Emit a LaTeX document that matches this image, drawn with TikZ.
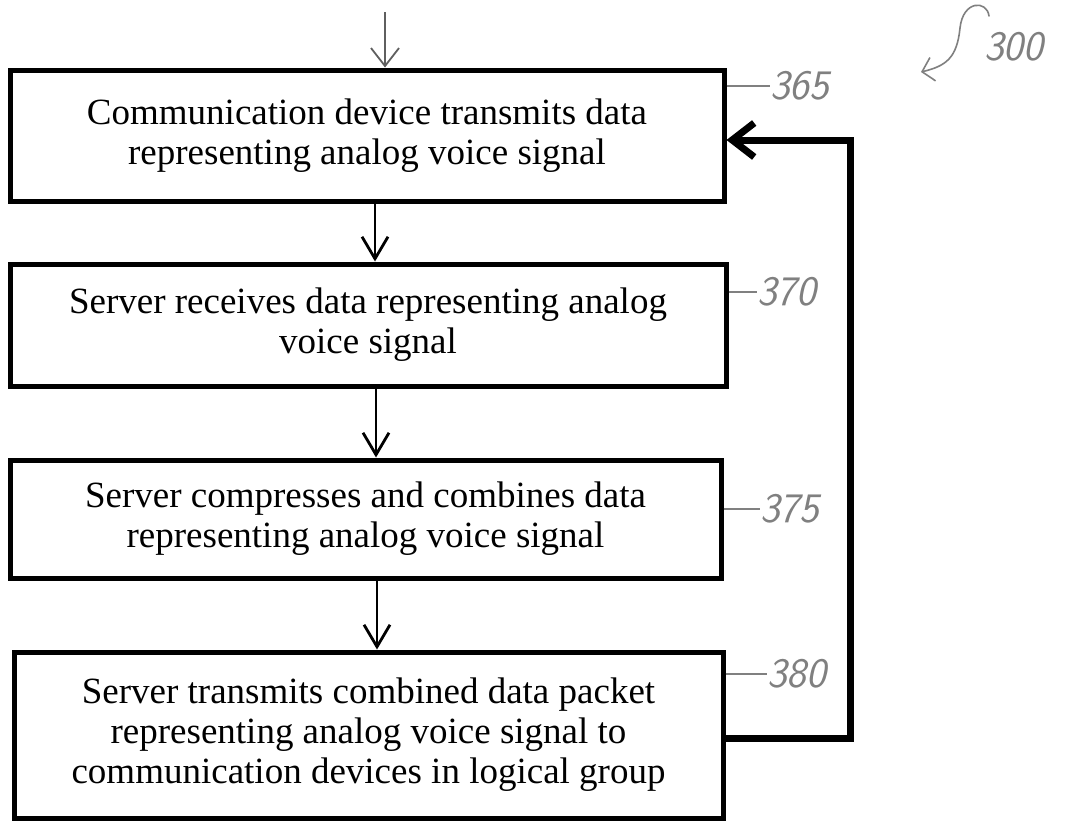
\documentclass[tikz,border=0pt]{standalone}
\usepackage{fontspec}
\setmainfont{Liberation Serif}
\usetikzlibrary{arrows.meta}
\definecolor{pencil}{RGB}{128,128,128}
\definecolor{inkgray}{RGB}{95,95,95}
\begin{document}
\begin{tikzpicture}[x=1pt,y=-1pt,
  stepbox/.style={draw=black, line width=5pt, align=center, inner sep=0pt,
    font=\fontsize{37}{40}\selectfont},
  flow/.style={line width=2.8pt, -{Straight Barb[length=22pt,width=26pt]}},
  entry/.style={draw=inkgray, line width=1.8pt, -{Straight Barb[length=18pt,width=28pt]}},
  loopback/.style={line width=7pt, -{Straight Barb[length=22pt,width=34pt]}},
  tag/.style={text=pencil, inner sep=0pt, anchor=west,
    font=\sffamily\slshape\fontsize{42}{42}\selectfont},
  leader/.style={draw=pencil, line width=1.3pt},
  pointer/.style={draw=pencil, line width=1.6pt, line cap=round,
    -{Straight Barb[length=11pt,width=24pt]}}]
\useasboundingbox (0,0) rectangle (1079,822);
\fill[white] (0,0) rectangle (1079,822);

% process steps
\node[stepbox, minimum width=714pt, minimum height=131pt] (b1) at (367,135.5)
  {Communication device transmits data\\representing analog voice signal};
\node[stepbox, minimum width=716pt, minimum height=122pt] (b2) at (368,325)
  {Server receives data representing analog\\voice signal};
\node[stepbox, minimum width=711pt, minimum height=118pt] (b3) at (365.5,519)
  {Server compresses and combines data\\representing analog voice signal};
\node[stepbox, minimum width=709pt, minimum height=166pt] (b4) at (368.5,735)
  {Server transmits combined data packet\\representing analog voice signal to\\communication devices in logical group};

% flow between steps
\coordinate (start) at (385,12);
\draw[entry] (start) -- (start |- b1.north);
\draw[flow] ([xshift=8pt]b1.south) -- ([xshift=7pt]b2.north);
\draw[flow] ([xshift=8pt]b2.south) -- ([xshift=10.5pt]b3.north);
\draw[flow] ([xshift=11.5pt]b3.south) -- ([xshift=8.5pt]b4.north);

% return path from the last step to the first
\coordinate (rb) at (850,738);
\coordinate (rt) at (850,140);
\draw[loopback] (b4.east |- rb) -- (rb) -- (rt) -- (b1.east |- rt);

% reference numerals
\node[tag] (l365) at (770,86) {365};
\node[tag] (l370) at (757,292) {370};
\node[tag] (l375) at (760,509) {375};
\node[tag] (l380) at (767,674) {380};
\draw[leader] (b1.east |- l365.west) -- (l365.west);
\draw[leader] (b2.east |- l370.west) -- (l370.west);
\draw[leader] (b3.east |- l375.west) -- (l375.west);
\draw[leader] (b4.east |- l380.west) -- (l380.west);

\node[tag] (l300) at (984,47) {300};
\coordinate (hook) at (989,16);
\draw[pointer] (hook) .. controls (987,0) and (963,0) .. (960,28)
  .. controls (957,58) and (946,66) .. (921,72);
\end{tikzpicture}
\end{document}
